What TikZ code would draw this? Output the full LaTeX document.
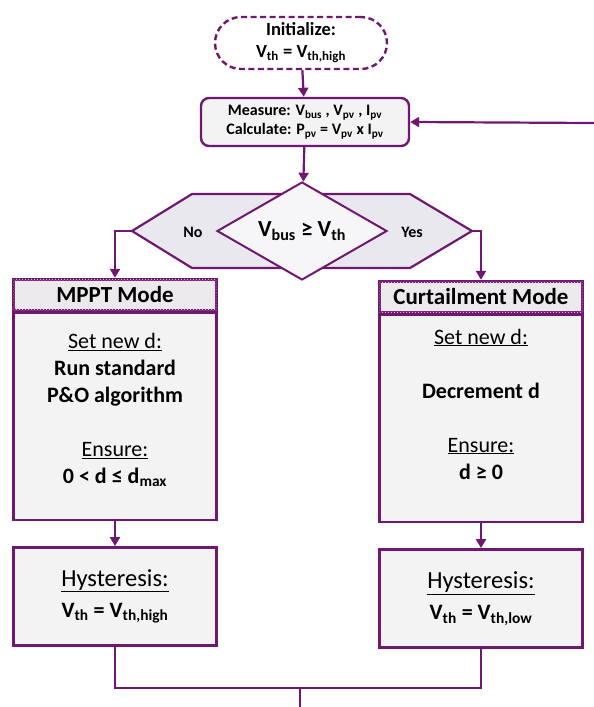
\documentclass[tikz,border=0pt]{standalone}
\usepackage{fontspec}
\setmainfont{Carlito}
\usepackage{xcolor}
\usepackage{tikz}
\usetikzlibrary{shapes.geometric,arrows.meta,positioning,patterns}
\definecolor{flowpurple}{RGB}{112,24,112}
\definecolor{hexfill}{RGB}{232,232,238}
\definecolor{diafill}{RGB}{246,246,248}
\definecolor{boxfill}{RGB}{243,243,243}
\definecolor{headfill}{RGB}{236,234,236}
\newcommand{\lo}[1]{\textsubscript{#1}}

\begin{document}
\begin{tikzpicture}[x=1pt,y=-1pt,
    >={Triangle[width=10pt,length=9pt]},
    line/.style={draw=flowpurple,line width=2.2pt},
    flow/.style={line,->},
    initbox/.style={draw=flowpurple,line width=2.4pt,dash pattern=on 6pt off 3.5pt,
        rounded corners=26pt,fill=white,minimum width=172pt,minimum height=52pt,
        align=center,font=\fontsize{18.5}{22}\selectfont\bfseries},
    measbox/.style={draw=flowpurple,line width=2.4pt,rounded corners=8pt,fill=boxfill,
        minimum width=208pt,minimum height=48pt,align=center,
        font=\fontsize{16}{19}\selectfont\bfseries},
    decision/.style={diamond,draw=flowpurple,line width=2pt,fill=diafill,aspect=1.7,
        inner sep=1pt,minimum width=170pt,minimum height=98pt,
        font=\fontsize{23}{26}\selectfont\bfseries},
    answer/.style={font=\fontsize{16}{19}\selectfont\bfseries},
    headbox/.style={draw=flowpurple,line width=2.8pt,fill=headfill,
        postaction={pattern=crosshatch dots,pattern color=flowpurple!10},
        minimum width=203pt,minimum height=31pt,inner sep=0pt,
        font=\fontsize{23}{26}\selectfont\bfseries},
    bodybox/.style={draw=flowpurple,line width=2.8pt,fill=boxfill,
        minimum width=203pt,minimum height=207pt},
    bodytext/.style={align=center,font=\fontsize{22}{27}\selectfont\bfseries},
    hystbox/.style={draw=flowpurple,line width=2.8pt,fill=boxfill,
        minimum width=203pt,minimum height=98pt,align=center,
        font=\fontsize{22}{31}\selectfont\bfseries}
]
    \useasboundingbox (0,0) rectangle (594,707);

    % Start
    \node[initbox] (init) at (301,43) {Initialize:\\V\lo{th} = V\lo{th,high}};
    \node[measbox] (measure) at (305,122)
        {Measure: V\lo{bus} , V\lo{pv} , I\lo{pv}\\Calculate: P\lo{pv} = V\lo{pv} x I\lo{pv}};
    \draw[flow] (init) -- (measure);

    % Loop back in
    \coordinate (loopin) at (594,123);
    \draw[flow] (loopin) -- (measure.east);

    % Decision
    \coordinate (noend) at (132,231);
    \coordinate (yesend) at (472,231);
    \draw[line,fill=hexfill] (noend) -- (192,194) -- (410,194) -- (yesend)
        -- (410,268) -- (192,268) -- cycle;
    \node[decision] (dec) at (302,231) {V\lo{bus} ≥ V\lo{th}};
    \node[answer] (no) at (193,232) {No};
    \node[answer] (yes) at (412,232) {Yes};
    \draw[flow] (measure) -- (dec);

    % Modes
    \node[bodybox] (mpptbody) at (115,416.5) {};
    \node[headbox,anchor=south] (mppthead) at (mpptbody.north) {MPPT Mode};
    \node[bodytext] (mppttext) at (115,410)
        {\mdseries\underline{Set new d:}\\Run standard\\P\&O algorithm\\[27pt]
         \mdseries\underline{Ensure:}\\0 < d ≤ d\lo{max}};

    \node[bodybox] (curtbody) at (481,418.5) {};
    \node[headbox,anchor=south] (curthead) at (curtbody.north) {Curtailment Mode};
    \node[bodytext] (curttext) at (481,404)
        {\mdseries\underline{Set new d:}\\[27pt]Decrement d\\[27pt]
         \mdseries\underline{Ensure:}\\d ≥ 0};

    \draw[flow] (noend) -| (mppthead.north);
    \draw[flow] (yesend) -| (curthead.north);

    % Hysteresis
    \node[hystbox] (hystl) at (115,596.5)
        {{\mdseries\fontsize{24.5}{28}\selectfont\underline{Hysteresis:}}\\V\lo{th} = V\lo{th,high}};
    \node[hystbox] (hystr) at (481,598.5)
        {{\mdseries\fontsize{24.5}{28}\selectfont\underline{Hysteresis:}}\\V\lo{th} = V\lo{th,low}};
    \draw[flow] (mpptbody) -- (hystl);
    \draw[flow] (curtbody) -- (hystr);

    % Back to measure
    \coordinate (merge) at (300,688);
    \coordinate (loopout) at (300,707);
    \draw[line] (hystl.south) |- (merge);
    \draw[line] (hystr.south) |- (merge);
    \draw[line] (merge) -- (loopout);
\end{tikzpicture}
\end{document}
